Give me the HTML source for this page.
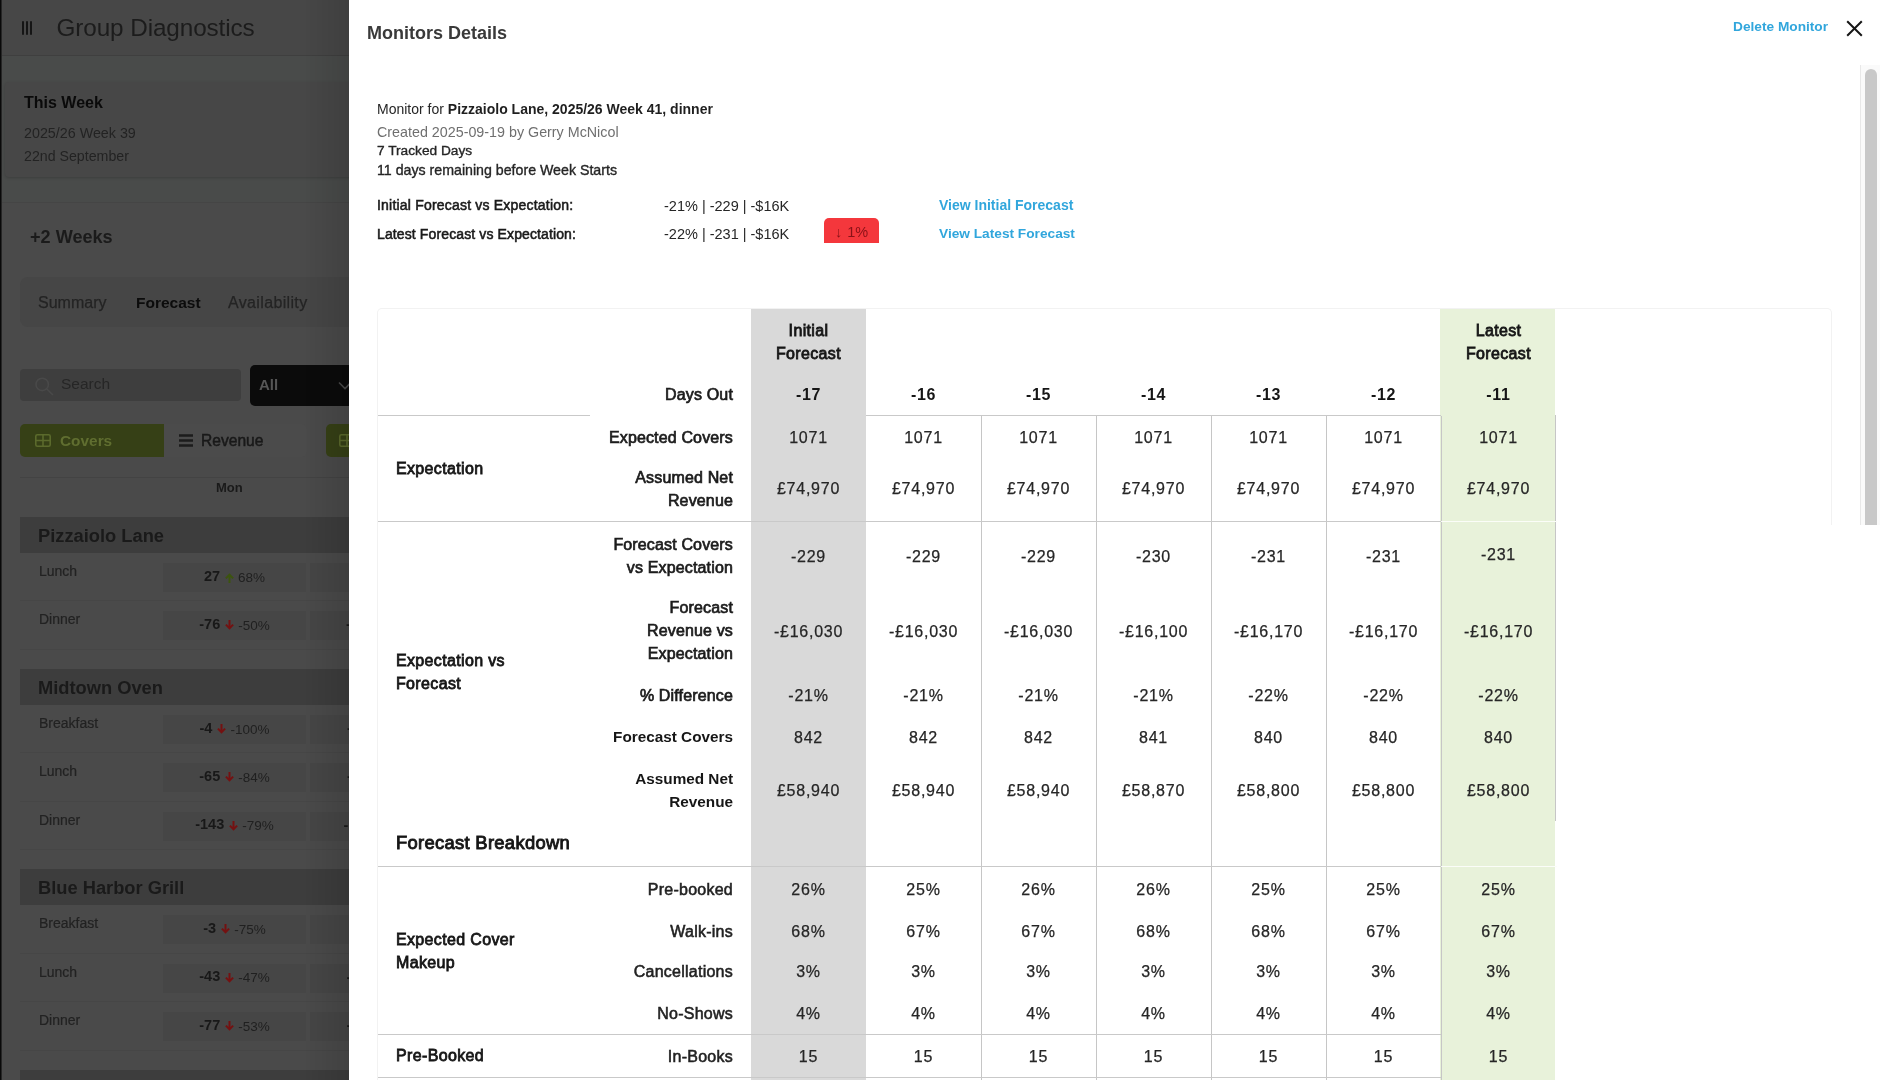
<!DOCTYPE html>
<html lang="en">
<head>
<meta charset="utf-8">
<title>Group Diagnostics - Monitors Details</title>
<style>
*{box-sizing:border-box}
html,body{margin:0;padding:0}
body{width:1880px;height:1080px;overflow:hidden;position:relative;background:#4a4a4a;font-family:"Liberation Sans",sans-serif;color:#161616;-webkit-font-smoothing:antialiased}
.abs{position:absolute}
/* ---------- dimmed background app ---------- */
#app,#panel{will-change:transform}
#app{position:absolute;left:0;top:0;width:349px;height:1080px;overflow:hidden;background:#4a4a4a;color:#1c1c1c}
#rail{position:absolute;left:0;top:0;width:2px;height:1080px;background:linear-gradient(to right,#090909 0,#090909 1px,#262626 1px,#262626 2px)}
#topbar{position:absolute;left:2px;top:0;width:347px;height:56px;background:#474747;border-bottom:1px solid #3f3f3f}
#burger{position:absolute;left:20px;top:21px;width:11px;height:14px}
#burger i{position:absolute;top:0;width:2px;height:14px;background:#151515;border-radius:1px}
#title{position:absolute;left:54.5px;top:13px;font-size:24.3px;line-height:30px;color:#1c1c1c;white-space:nowrap;letter-spacing:-0.1px}
#sec1{position:absolute;left:2px;top:56px;width:347px;height:147px;background:#494b4a;border-bottom:1px solid #454545}
#week{position:absolute;left:5px;top:82px;width:360px;height:95px;background:#474747;border-radius:4px;box-shadow:0 1px 3px rgba(0,0,0,.18)}
#week b{position:absolute;left:19px;top:11px;font-size:16px;line-height:20px;color:#0a0a0a;white-space:nowrap}
#week span{position:absolute;left:19px;font-size:14.3px;line-height:18px;color:#232323;white-space:nowrap}
#plus2{position:absolute;left:30px;top:224.5px;font-size:18.1px;line-height:24px;font-weight:700;color:#1b1b1b;white-space:nowrap}
#tabs{position:absolute;left:20px;top:277px;width:340px;height:50px;background:#464646;border-radius:8px}
#tabs span{position:absolute;top:16px;font-size:16px;line-height:20px;color:#242424;white-space:nowrap;-webkit-text-stroke:0.25px #242424}
#tabs span.on{font-weight:700;color:#0c0c0c;font-size:15.5px;-webkit-text-stroke:0}
#search{position:absolute;left:20px;top:369px;width:221px;height:32px;background:#3e3e3e;border-radius:4px}
#search svg{position:absolute;left:15px;top:8px}
#search span{position:absolute;left:41px;top:5px;font-size:15.5px;line-height:20px;color:#262626}
#sel{position:absolute;left:250px;top:365px;width:120px;height:41px;background:#0b0b0b;border-radius:5px}
#sel b{position:absolute;left:9px;top:10px;font-size:15px;line-height:20px;color:#565656}
#sel svg{position:absolute;left:87.5px;top:16px}
.seg{position:absolute;top:424px;height:33px;font-size:15px;line-height:33px;white-space:nowrap}
#cov{left:20px;width:144px;background:#364016;border-radius:5px 0 0 5px;color:#606e30;font-weight:700;font-size:15.4px}
#rev{left:164px;width:143px;background:#4b4b4b;border-radius:0 5px 5px 0;color:#191919;font-size:15.6px;-webkit-text-stroke:0.5px #191919}
#cov2{left:326px;width:60px;background:#364016;border-radius:5px 0 0 5px}
.seg svg{position:absolute}
.seg span{position:absolute;top:0}
#hline{position:absolute;left:20px;top:477px;width:340px;height:1px;background:#434343}
#mon{position:absolute;left:216px;top:479px;font-size:13px;line-height:18px;font-weight:700;color:#1a1a1a}
.band{position:absolute;left:20px;width:340px;height:36px;background:#3d3d3d;font-size:18.3px;line-height:38px;font-weight:700;color:#1a1a1a;padding-left:18px;white-space:nowrap}
.row{position:absolute;left:20px;width:340px;height:48.4px;border-bottom:1px solid #464646}
.row .lb{position:absolute;left:19px;top:9px;font-size:14px;line-height:18px;color:#222;-webkit-text-stroke:0.2px #222}
.row .c{position:absolute;left:143px;top:10px;width:143px;height:29px;background:#464646;display:flex;justify-content:center;align-items:center;font-size:13.5px;line-height:16px;color:#202020;white-space:nowrap}
.row .c2{position:absolute;left:290px;top:10px;width:60px;height:29px;background:#464646}
.row .c2 b{position:absolute;top:5px;font-size:14.5px;line-height:16px;color:#181818;white-space:nowrap}
.row .c b{font-size:14.5px;color:#181818;position:relative;top:-2px}
.row .c svg{margin:1px 4px 0 5px;flex:none}
.row .c svg.dn{margin-top:-1px}
.up{stroke:#3c540e}.dn{stroke:#741111}


#panel{position:absolute;left:349px;top:0;width:1531px;height:1080px;background:#fff}
#pshadow{position:absolute;left:305px;top:0;width:44px;height:1080px;background:linear-gradient(to right,rgba(0,0,0,0),rgba(0,0,0,0.11))}
#panel .t{position:absolute;white-space:nowrap}
#ptitle{left:18px;top:21px;font-size:18px;line-height:24px;font-weight:700;color:#3a3a3a}
#del{left:1384px;top:17px;font-size:13.7px;line-height:20px;font-weight:700;color:#31a6dc}
#close{position:absolute;left:1497px;top:20px}
#sbtrack{position:absolute;left:1511px;top:65px;width:20px;height:460px;background:#fafafa;border-left:1px solid #e8e8e8;overflow:hidden}
#sbthumb{position:absolute;left:4px;top:4px;width:12px;height:600px;border-radius:6px;background:#c8c8c8}
.info{font-size:14px;line-height:18px;color:#262626}
.info b{color:#1f1f1f}
.gray{color:#6f6f6f}
.med{-webkit-text-stroke:0.35px #262626}
.lnk{font-size:14px;line-height:18px;font-weight:700;color:#31a6dc}
.lab{font-size:14px;line-height:18px;font-weight:400;color:#1a1a1a;-webkit-text-stroke:0.55px #1a1a1a;letter-spacing:0.2px}
.val{font-size:14.5px;line-height:18px;color:#262626}
#badge{position:absolute;left:475px;top:218px;width:55px;height:25px;background:#f4373c;border-radius:5px 5px 0 0;color:#8a1218;font-size:14.5px;line-height:29px;text-align:center;white-space:nowrap;word-spacing:1px}
/* card + table */
#cardtop{position:absolute;left:28px;top:308px;width:1455px;height:217px;border:1px solid #f2f2f2;border-bottom:none;border-radius:5px 5px 0 0}
#cardleft{position:absolute;left:28px;top:525px;width:1px;height:555px;background:#f2f2f2}
.colg{position:absolute;top:309px;height:771px;left:402px;width:115px;background:#d9d9d9}
.colv{position:absolute;top:309px;height:771px;left:1091px;width:115px;background:#e8f2da}
.vl{position:absolute;width:1px;background:#c6c6c6}
.hl{position:absolute;height:1px;background:#c9c9c9}
#tbl{position:absolute;left:29px;top:309px;border-collapse:separate;border-spacing:0;table-layout:fixed;width:1178px;font-size:16px;line-height:23px;color:#262626}
#tbl td,#tbl th{padding:0;margin:0;vertical-align:middle;text-align:center;font-weight:400;overflow:visible}
#tbl .g{text-align:left;padding-left:18px;font-weight:400;font-size:16px;color:#161616;-webkit-text-stroke:0.8px #161616;letter-spacing:0.35px}
#tbl .l{text-align:right;padding-right:18px;font-weight:400;font-size:16px;color:#1c1c1c;-webkit-text-stroke:0.7px #1c1c1c;letter-spacing:0.15px}
#tbl .l.b{font-weight:700;font-size:15.3px;-webkit-text-stroke:0;letter-spacing:0;color:#161616}
#tbl .l.m{color:#222;-webkit-text-stroke:0.55px #222;letter-spacing:0.25px}
#tbl .h{font-weight:400;font-size:16px;color:#161616;-webkit-text-stroke:0.8px #161616;letter-spacing:0.35px}
#tbl .hn{font-weight:700;font-size:16px;letter-spacing:0.7px;-webkit-text-stroke:0}
#tbl .v{letter-spacing:0.75px;-webkit-text-stroke:0.25px #262626}
#tbl .fb{font-size:18.4px;white-space:nowrap;-webkit-text-stroke:0.9px #161616;letter-spacing:0.3px}

</style>
</head>
<body>
<div id="app">
  <div id="rail"></div>
  <div id="topbar">
    <div id="burger"><i style="left:0"></i><i style="left:4px"></i><i style="left:8px"></i></div>
    <div id="title">Group Diagnostics</div>
  </div>
  <div id="sec1"></div>
  <div id="week"><b>This Week</b><span style="top:42px">2025/26 Week 39</span><span style="top:65px;font-size:14.2px">22nd September</span></div>
  <div id="plus2">+2 Weeks</div>
  <div id="tabs"><span style="left:18px">Summary</span><span class="on" style="left:116px">Forecast</span><span style="left:208px;letter-spacing:0.35px">Availability</span></div>
  <div id="search"><svg width="19" height="19" viewBox="0 0 19 19" fill="none" stroke="#494949" stroke-width="1.6"><circle cx="7.2" cy="7.4" r="6.2"/><path d="M11.8 12 L18 18"/></svg><span>Search</span></div>
  <div id="sel"><b>All</b><svg width="14" height="10" viewBox="0 0 14 10" fill="none" stroke="#4a4a4a" stroke-width="1.6"><path d="M1 1.5 L7 7.5 L13 1.5"/></svg></div>
  <div id="cov" class="seg"><svg style="left:15px;top:10px" width="16" height="13" viewBox="0 0 16 13" fill="none" stroke="#5b6a2c" stroke-width="1.6"><rect x="0.8" y="0.8" width="14.4" height="11.4" rx="1.5"/><path d="M8 1v11M1 6.5h14"/></svg><span style="left:40px">Covers</span></div>
  <div id="rev" class="seg"><svg style="left:15px;top:10px" width="14" height="13" viewBox="0 0 14 13" fill="none" stroke="#1c1c1c" stroke-width="2.4"><path d="M0 1.5h14M0 6.5h14M0 11.5h14"/></svg><span style="left:37px">Revenue</span></div>
  <div id="cov2" class="seg"><svg style="left:13px;top:10px" width="16" height="13" viewBox="0 0 16 13" fill="none" stroke="#5b6a2c" stroke-width="1.6"><rect x="0.8" y="0.8" width="14.4" height="11.4" rx="1.5"/><path d="M8 1v11M1 6.5h14"/></svg></div>
  <div id="hline"></div>
  <div id="mon">Mon</div>

  <div class="band" style="top:517px">Pizzaiolo Lane</div>
  <div class="row" style="top:553px"><span class="lb">Lunch</span><span class="c"><b>27</b><svg class="up" width="9" height="10" viewBox="0 0 9 10" fill="none" stroke-width="2"><path d="M4.5 10V1.6M0.9 5.4L4.5 1.6L8.1 5.4"/></svg>68%</span><span class="c2"></span></div>
  <div class="row" style="top:601.4px"><span class="lb">Dinner</span><span class="c"><b>-76</b><svg class="dn" width="9" height="10" viewBox="0 0 9 10" fill="none" stroke-width="2"><path d="M4.5 0V8.4M0.9 4.6L4.5 8.4L8.1 4.6"/></svg>-50%</span><span class="c2"><b style="left:36px">-</b></span></div>

  <div class="band" style="top:669px">Midtown Oven</div>
  <div class="row" style="top:705px"><span class="lb">Breakfast</span><span class="c"><b>-4</b><svg class="dn" width="9" height="10" viewBox="0 0 9 10" fill="none" stroke-width="2"><path d="M4.5 0V8.4M0.9 4.6L4.5 8.4L8.1 4.6"/></svg>-100%</span><span class="c2"><b style="left:37px">-</b></span></div>
  <div class="row" style="top:753.4px"><span class="lb">Lunch</span><span class="c"><b>-65</b><svg class="dn" width="9" height="10" viewBox="0 0 9 10" fill="none" stroke-width="2"><path d="M4.5 0V8.4M0.9 4.6L4.5 8.4L8.1 4.6"/></svg>-84%</span><span class="c2"><b style="left:37px">-</b></span></div>
  <div class="row" style="top:801.8px"><span class="lb">Dinner</span><span class="c"><b>-143</b><svg class="dn" width="9" height="10" viewBox="0 0 9 10" fill="none" stroke-width="2"><path d="M4.5 0V8.4M0.9 4.6L4.5 8.4L8.1 4.6"/></svg>-79%</span><span class="c2"><b style="left:33.5px">-</b></span></div>

  <div class="band" style="top:869.4px">Blue Harbor Grill</div>
  <div class="row" style="top:905.4px"><span class="lb">Breakfast</span><span class="c"><b>-3</b><svg class="dn" width="9" height="10" viewBox="0 0 9 10" fill="none" stroke-width="2"><path d="M4.5 0V8.4M0.9 4.6L4.5 8.4L8.1 4.6"/></svg>-75%</span><span class="c2"></span></div>
  <div class="row" style="top:953.8px"><span class="lb">Lunch</span><span class="c"><b>-43</b><svg class="dn" width="9" height="10" viewBox="0 0 9 10" fill="none" stroke-width="2"><path d="M4.5 0V8.4M0.9 4.6L4.5 8.4L8.1 4.6"/></svg>-47%</span><span class="c2"><b style="left:36.5px">-</b></span></div>
  <div class="row" style="top:1002.2px"><span class="lb">Dinner</span><span class="c"><b>-77</b><svg class="dn" width="9" height="10" viewBox="0 0 9 10" fill="none" stroke-width="2"><path d="M4.5 0V8.4M0.9 4.6L4.5 8.4L8.1 4.6"/></svg>-53%</span><span class="c2"><b style="left:36.5px">-</b></span></div>

  <div class="band" style="top:1069.8px"></div>
</div>

<div id="pshadow"></div>
<div id="panel">
  <div class="t" id="ptitle">Monitors Details</div>
  <div class="t" id="del">Delete Monitor</div>
  <svg id="close" width="17" height="17" viewBox="0 0 17 17" fill="none" stroke="#161616" stroke-width="2"><path d="M1.2 1.2 L15.8 15.8 M15.8 1.2 L1.2 15.8"/></svg>
  <div id="sbtrack"><div id="sbthumb"></div></div>

  <div class="t info" style="left:28px;top:100px">Monitor for <b>Pizzaiolo Lane, 2025/26 Week 41, dinner</b></div>
  <div class="t info gray" style="left:28px;top:123px;font-size:14.3px">Created 2025-09-19 by Gerry McNicol</div>
  <div class="t info med" style="left:28px;top:142px;font-size:13.7px">7 Tracked Days</div>
  <div class="t info med" style="left:28px;top:161px;font-size:14.2px">11 days remaining before Week Starts</div>
  <div class="t lab" style="left:28px;top:196px">Initial Forecast vs Expectation:</div>
  <div class="t val" style="left:315px;top:197px">-21% | -229 | -$16K</div>
  <div class="t lnk" style="left:590px;top:196px">View Initial Forecast</div>
  <div class="t lab" style="left:28px;top:225px;letter-spacing:0.12px">Latest Forecast vs Expectation:</div>
  <div class="t val" style="left:315px;top:225px">-22% | -231 | -$16K</div>
  <div id="badge">↓ 1%</div>
  <div class="t lnk" style="left:590px;top:225px;font-size:13.7px">View Latest Forecast</div>

  <div id="cardtop"></div><div id="cardleft"></div>
  <div class="colg"></div><div class="colv"></div>
  <div class="vl" style="left:632px;top:416px;height:664px"></div>
  <div class="vl" style="left:747px;top:416px;height:664px"></div>
  <div class="vl" style="left:862px;top:416px;height:664px"></div>
  <div class="vl" style="left:977px;top:416px;height:664px"></div>
  <div class="vl" style="left:1092px;top:416px;height:664px"></div>
  <div class="vl" style="left:1206px;top:415px;height:406px"></div>
  <div class="hl" style="left:29px;top:415px;width:212px"></div>
  <div class="hl" style="left:517px;top:415px;width:575px"></div>
  <div class="hl" style="left:29px;top:521px;width:1063px"></div>
  <div class="hl" style="left:1092px;top:521px;width:116px;background:#fbfdf8"></div>
  <div class="hl" style="left:29px;top:866px;width:1063px"></div>
  <div class="hl" style="left:1092px;top:866px;width:116px;background:#fbfdf8"></div>
  <div class="hl" style="left:29px;top:1034px;width:1063px"></div>
  <div class="hl" style="left:29px;top:1077px;width:1063px"></div>
  <table id="tbl">
  <colgroup><col style="width:212px"><col style="width:161px"><col style="width:115px"><col style="width:115px"><col style="width:115px"><col style="width:115px"><col style="width:115px"><col style="width:115px"><col style="width:115px"></colgroup>
  <tr style="height:65px"><th></th><th></th><th class="h">Initial<br>Forecast</th><th></th><th></th><th></th><th></th><th></th><th class="h">Latest<br>Forecast</th></tr>
  <tr style="height:42px"><th></th><th class="l" style="position:relative;top:-1px">Days Out</th><th class="h hn" style="position:relative;top:-1px">-17</th><th class="h hn" style="position:relative;top:-1px">-16</th><th class="h hn" style="position:relative;top:-1px">-15</th><th class="h hn" style="position:relative;top:-1px">-14</th><th class="h hn" style="position:relative;top:-1px">-13</th><th class="h hn" style="position:relative;top:-1px">-12</th><th class="h hn" style="position:relative;top:-1px">-11</th></tr>
  <tr style="height:41px"><td class="g" rowspan="2" style="position:relative;top:-1.5px">Expectation</td><td class="l" style="position:relative;top:0.5px">Expected Covers</td><td class="v" style="position:relative;top:0.5px">1071</td><td class="v" style="position:relative;top:0.5px">1071</td><td class="v" style="position:relative;top:0.5px">1071</td><td class="v" style="position:relative;top:0.5px">1071</td><td class="v" style="position:relative;top:0.5px">1071</td><td class="v" style="position:relative;top:0.5px">1071</td><td class="v" style="position:relative;top:0.5px">1071</td></tr>
  <tr style="height:66px"><td class="l" style="position:relative;top:-1.5px">Assumed Net<br>Revenue</td><td class="v" style="position:relative;top:-1.5px">£74,970</td><td class="v" style="position:relative;top:-1.5px">£74,970</td><td class="v" style="position:relative;top:-1.5px">£74,970</td><td class="v" style="position:relative;top:-1.5px">£74,970</td><td class="v" style="position:relative;top:-1.5px">£74,970</td><td class="v" style="position:relative;top:-1.5px">£74,970</td><td class="v" style="position:relative;top:-1.5px">£74,970</td></tr>
  <tr style="height:66px"><td class="g" rowspan="5" style="position:relative;top:-1.5px">Expectation vs<br>Forecast</td><td class="l">Forecast Covers<br>vs Expectation</td><td class="v">-229</td><td class="v">-229</td><td class="v">-229</td><td class="v">-230</td><td class="v">-231</td><td class="v">-231</td><td class="v" style="position:relative;top:-1.5px">-231</td></tr>
  <tr style="height:83px"><td class="l">Forecast<br>Revenue vs<br>Expectation</td><td class="v" style="position:relative;top:1px">-£16,030</td><td class="v" style="position:relative;top:1px">-£16,030</td><td class="v" style="position:relative;top:1px">-£16,030</td><td class="v" style="position:relative;top:1px">-£16,100</td><td class="v" style="position:relative;top:1px">-£16,170</td><td class="v" style="position:relative;top:1px">-£16,170</td><td class="v" style="position:relative;top:1px">-£16,170</td></tr>
  <tr style="height:46px"><td class="l">% Difference</td><td class="v">-21%</td><td class="v">-21%</td><td class="v">-21%</td><td class="v">-21%</td><td class="v">-22%</td><td class="v">-22%</td><td class="v">-22%</td></tr>
  <tr style="height:36px"><td class="l b">Forecast Covers</td><td class="v" style="position:relative;top:1px">842</td><td class="v" style="position:relative;top:1px">842</td><td class="v" style="position:relative;top:1px">842</td><td class="v" style="position:relative;top:1px">841</td><td class="v" style="position:relative;top:1px">840</td><td class="v" style="position:relative;top:1px">840</td><td class="v" style="position:relative;top:1px">840</td></tr>
  <tr style="height:70px"><td class="l b" style="position:relative;top:1px">Assumed Net<br>Revenue</td><td class="v" style="position:relative;top:1px">£58,940</td><td class="v" style="position:relative;top:1px">£58,940</td><td class="v" style="position:relative;top:1px">£58,940</td><td class="v" style="position:relative;top:1px">£58,870</td><td class="v" style="position:relative;top:1px">£58,800</td><td class="v" style="position:relative;top:1px">£58,800</td><td class="v" style="position:relative;top:1px">£58,800</td></tr>
  <tr style="height:43px"><td class="g fb" colspan="2" style="position:relative;top:-3px">Forecast Breakdown</td><td></td><td></td><td></td><td></td><td></td><td></td><td></td></tr>
  <tr style="height:44px"><td class="g" rowspan="4" style="position:relative;top:-0.5px">Expected Cover<br>Makeup</td><td class="l m">Pre-booked</td><td class="v">26%</td><td class="v">25%</td><td class="v">26%</td><td class="v">26%</td><td class="v">25%</td><td class="v">25%</td><td class="v">25%</td></tr>
  <tr style="height:41px"><td class="l m">Walk-ins</td><td class="v">68%</td><td class="v">67%</td><td class="v">67%</td><td class="v">68%</td><td class="v">68%</td><td class="v">67%</td><td class="v">67%</td></tr>
  <tr style="height:41px"><td class="l m" style="position:relative;top:-1px">Cancellations</td><td class="v" style="position:relative;top:-1px">3%</td><td class="v" style="position:relative;top:-1px">3%</td><td class="v" style="position:relative;top:-1px">3%</td><td class="v" style="position:relative;top:-1px">3%</td><td class="v" style="position:relative;top:-1px">3%</td><td class="v" style="position:relative;top:-1px">3%</td><td class="v" style="position:relative;top:-1px">3%</td></tr>
  <tr style="height:42px"><td class="l m" style="position:relative;top:-1px">No-Shows</td><td class="v" style="position:relative;top:-1px">4%</td><td class="v" style="position:relative;top:-1px">4%</td><td class="v" style="position:relative;top:-1px">4%</td><td class="v" style="position:relative;top:-1px">4%</td><td class="v" style="position:relative;top:-1px">4%</td><td class="v" style="position:relative;top:-1px">4%</td><td class="v" style="position:relative;top:-1px">4%</td></tr>
  <tr style="height:43px"><td class="g" rowspan="1" style="position:relative;top:-1px">Pre-Booked</td><td class="l m">In-Books</td><td class="v">15</td><td class="v">15</td><td class="v">15</td><td class="v">15</td><td class="v">15</td><td class="v">15</td><td class="v">15</td></tr>
  <tr style="height:43px"><td class="g"></td><td class="l m"></td><td></td><td></td><td></td><td></td><td></td><td></td><td></td></tr>
  </table>
</div>
</body>
</html>
